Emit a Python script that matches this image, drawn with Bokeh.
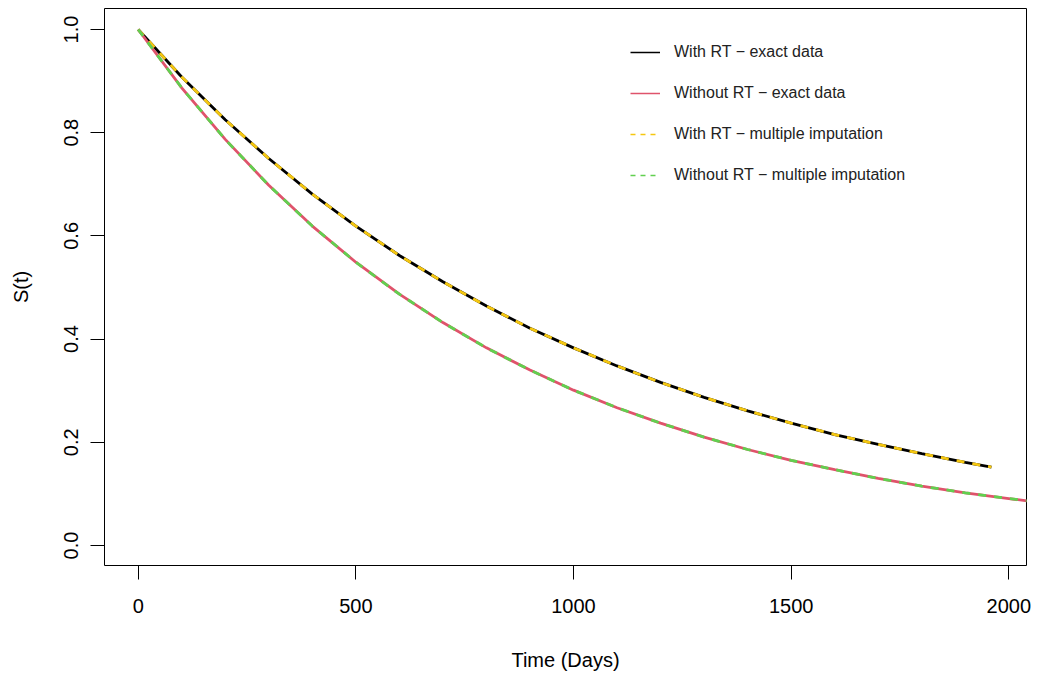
from bokeh.plotting import figure
from bokeh.models import Legend, LegendItem, FixedTicker, PrintfTickFormatter, Range1d
from bokeh.embed import file_html
from bokeh.resources import INLINE

# ---- data ----
days_rt = [0, 100, 200, 300, 400, 500, 600, 700, 800, 900, 1000, 1100, 1200,
           1300, 1400, 1500, 1600, 1700, 1800, 1900, 1960]
s_rt_exact = [1.000, 0.908, 0.825, 0.750, 0.681, 0.619, 0.562, 0.511, 0.464,
              0.421, 0.383, 0.348, 0.316, 0.287, 0.261, 0.237, 0.215, 0.196,
              0.178, 0.161, 0.152]
s_rt_mi = [1.000, 0.908, 0.825, 0.750, 0.681, 0.619, 0.562, 0.511, 0.464,
           0.421, 0.383, 0.348, 0.316, 0.287, 0.261, 0.237, 0.215, 0.196,
           0.178, 0.161, 0.152]

days_nort = [0, 100, 200, 300, 400, 500, 600, 700, 800, 900, 1000, 1100, 1200,
             1300, 1400, 1500, 1600, 1700, 1800, 1900, 2000, 2100]
s_nort_exact = [1.000, 0.887, 0.787, 0.698, 0.619, 0.549, 0.487, 0.432, 0.383,
                0.340, 0.301, 0.267, 0.237, 0.210, 0.186, 0.165, 0.147, 0.130,
                0.115, 0.102, 0.091, 0.080]
s_nort_mi = [1.000, 0.887, 0.787, 0.698, 0.619, 0.549, 0.487, 0.432, 0.383,
             0.340, 0.301, 0.267, 0.237, 0.210, 0.186, 0.165, 0.147, 0.130,
             0.115, 0.102, 0.091, 0.080]

x_ticks = [0, 500, 1000, 1500, 2000]
y_ticks = [0.0, 0.2, 0.4, 0.6, 0.8, 1.0]

labels = ["With RT \u2212 exact data", "Without RT \u2212 exact data",
          "With RT \u2212 multiple imputation", "Without RT \u2212 multiple imputation"]
colors = ["#000000", "#DF536B", "#F5C710", "#61D04F"]

FONT = "Liberation Sans"

p = figure(width=1037, height=675, output_backend="svg", toolbar_location=None,
           x_range=Range1d(-77.4, 2040.6), y_range=Range1d(-0.0388, 1.0407),
           min_border_left=104, min_border_right=11, min_border_top=8,
           min_border_bottom=110)
p.xgrid.visible = False
p.ygrid.visible = False
p.outline_line_color = "black"
p.outline_line_width = 1
p.background_fill_color = "white"
p.border_fill_color = "white"

# curves
p.line(days_rt, s_rt_exact, line_color=colors[0], line_width=2.8)
p.line(days_rt, s_rt_mi, line_color=colors[2], line_width=2.8, line_dash="8 8")
p.line(days_nort, s_nort_exact, line_color=colors[1], line_width=2.8)
p.line(days_nort, s_nort_mi, line_color=colors[3], line_width=2.8, line_dash="8 8")

# legend-only renderers (thin lines as in the reference legend); a single
# point draws no visible line in the plot area
dashes = ["solid", "solid", "5 5", "5 5"]
items = []
for lab, col, d in zip(labels, colors, dashes):
    r = p.line([days_rt[0]], [s_rt_exact[0]], line_color=col, line_width=1.5,
               line_dash=d)
    items.append(LegendItem(label=lab, renderers=[r]))

legend = Legend(items=items, location=(526, 380), border_line_color=None,
                background_fill_alpha=0, padding=0, margin=0, spacing=21,
                glyph_width=30, glyph_height=20, label_height=20,
                label_standoff=14, label_text_font=FONT,
                label_text_font_size="16px", label_text_color="#222222")
p.add_layout(legend, "center")

for ax in (p.xaxis[0], p.yaxis[0]):
    ax.axis_line_color = None
    ax.major_tick_in = 0
    ax.major_tick_out = 14
    ax.major_tick_line_color = "black"
    ax.minor_tick_line_color = None
    ax.major_label_text_font = FONT
    ax.major_label_text_font_size = "20px"
    ax.major_label_text_color = "black"
    ax.axis_label_text_font = FONT
    ax.axis_label_text_font_size = "20px"
    ax.axis_label_text_font_style = "normal"
    ax.axis_label_text_color = "black"

p.xaxis.ticker = FixedTicker(ticks=x_ticks)
p.yaxis.ticker = FixedTicker(ticks=y_ticks)
p.yaxis.formatter = PrintfTickFormatter(format="%.1f")
p.yaxis.major_label_orientation = "vertical"
p.xaxis.major_label_standoff = 19
p.yaxis.major_label_standoff = 12
p.xaxis.axis_label = "Time (Days)"
p.yaxis.axis_label = "S(t)"
p.xaxis.axis_label_standoff = 33
p.yaxis.axis_label_standoff = 30

open("out.html", "w").write(file_html(p, INLINE))
